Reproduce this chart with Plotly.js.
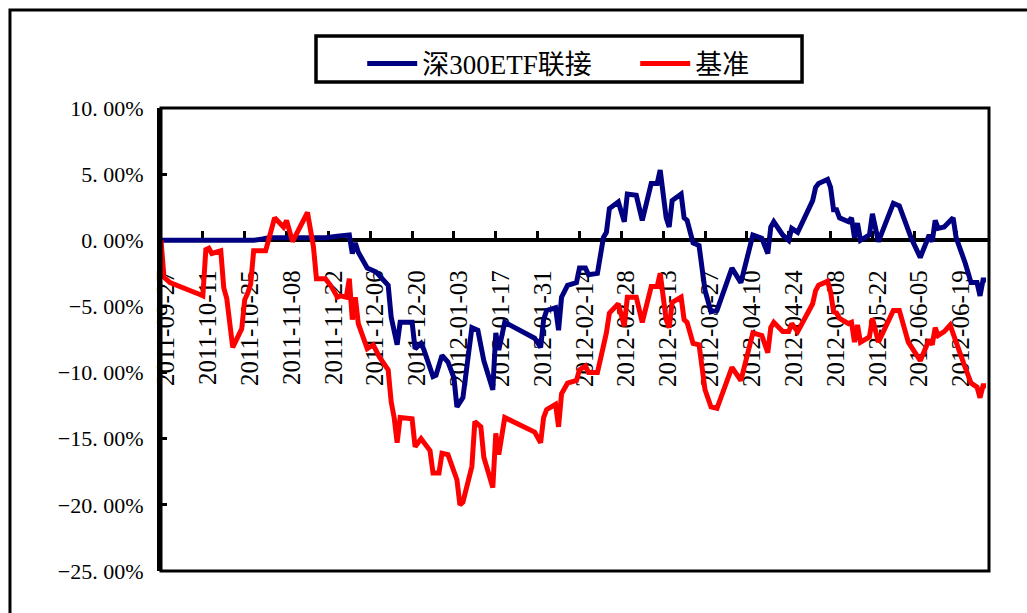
<!DOCTYPE html>
<html>
<head>
<meta charset="utf-8">
<script src="https://cdn.plot.ly/plotly-3.0.1.min.js"></script>
<style>
  html, body { margin: 0; padding: 0; background: #fff; }
  #chart { width: 1027px; height: 613px; }
</style>
</head>
<body>
<div id="chart"></div>
<script>
// ---- Data (cumulative return, %) ----
const fundName = '深300ETF联接';
const benchName = '基准';

const fundDates = [
  '2011-09-27','2011-10-28','2011-10-31','2011-11-02','2011-11-21','2011-11-25','2011-11-29','2011-11-30',
  '2011-12-01','2011-12-02','2011-12-05','2011-12-08','2011-12-12','2011-12-13','2011-12-15','2011-12-16',
  '2011-12-20','2011-12-21','2011-12-23','2011-12-24','2011-12-27','2011-12-28','2011-12-30','2012-01-01',
  '2012-01-03','2012-01-04','2012-01-06','2012-01-09','2012-01-11','2012-01-13','2012-01-16','2012-01-17',
  '2012-01-18','2012-01-20','2012-01-30','2012-02-01','2012-02-02','2012-02-03','2012-02-06','2012-02-07',
  '2012-02-08','2012-02-10','2012-02-13','2012-02-14','2012-02-16','2012-02-17','2012-02-20','2012-02-22',
  '2012-02-23','2012-02-24','2012-02-27','2012-02-29','2012-03-01','2012-03-04','2012-03-06','2012-03-09',
  '2012-03-11','2012-03-12','2012-03-14','2012-03-15','2012-03-16','2012-03-19','2012-03-20','2012-03-21',
  '2012-03-23','2012-03-25','2012-03-27','2012-03-29','2012-03-31','2012-04-05','2012-04-08','2012-04-12',
  '2012-04-15','2012-04-17','2012-04-18','2012-04-19','2012-04-22','2012-04-24','2012-04-25','2012-04-27',
  '2012-05-02','2012-05-03','2012-05-04','2012-05-06','2012-05-07','2012-05-08','2012-05-09','2012-05-10',
  '2012-05-11','2012-05-14','2012-05-15','2012-05-16','2012-05-17','2012-05-18','2012-05-21','2012-05-22',
  '2012-05-24','2012-05-29','2012-05-31','2012-06-04','2012-06-07','2012-06-10','2012-06-11','2012-06-12',
  '2012-06-13','2012-06-15','2012-06-18','2012-06-19','2012-06-22','2012-06-24','2012-06-26','2012-06-27',
  '2012-06-28','2012-06-29'
];
const fundValues = [
  0, 0, 0.1, 0.2, 0.2, 0.3, 0.4, -1.0,
  -0.2, -0.9, -2.1, -2.4, -3.4, -5.8, -7.9, -6.2,
  -6.2, -8.2, -7.8, -8.3, -10.3, -10.2, -8.7, -9.2,
  -10.4, -12.6, -11.9, -6.6, -6.8, -9.1, -11.3, -7.0,
  -8.3, -6.2, -7.4, -8.1, -6.0, -5.3, -5.1, -6.8,
  -4.3, -3.4, -3.2, -2.1, -2.1, -2.6, -2.5, 0.2,
  0.6, 2.4, 2.9, 1.4, 3.5, 3.4, 1.5, 4.3,
  4.3, 5.3, 1.7, 1.0, 3.0, 3.5, 1.7, 1.5,
  -0.2, -0.4, -3.8, -5.4, -5.3, -2.1, -3.2, 0.4,
  0.15, -1.0, 1.0, 1.4, 0.4, 0.0, 0.9, 0.6,
  3.0, 4.0, 4.3, 4.5, 4.6, 4.0, 2.3, 2.3,
  1.7, 1.4, 1.7, 0.2, 1.3, 0.0, 0.4, 2.0,
  -0.1, 2.8, 2.6, 0.15, -1.3, 0.4, -0.1, 1.5,
  0.9, 1.0, 1.7, 0.2, -1.7, -3.2, -3.2, -4.2,
  -3.0, -3.0
];

const benchDates = [
  '2011-09-27','2011-09-28','2011-09-29','2011-09-30','2011-10-10','2011-10-11','2011-10-12','2011-10-13',
  '2011-10-14','2011-10-17','2011-10-18','2011-10-19','2011-10-21','2011-10-24','2011-10-25','2011-10-26',
  '2011-10-27','2011-10-28','2011-11-01','2011-11-04','2011-11-07','2011-11-08','2011-11-10','2011-11-15',
  '2011-11-17','2011-11-18','2011-11-21','2011-11-23','2011-11-25','2011-11-26','2011-11-28','2011-11-29',
  '2011-11-30','2011-12-01','2011-12-02','2011-12-05','2011-12-07','2011-12-09','2011-12-12','2011-12-13',
  '2011-12-14','2011-12-15','2011-12-16','2011-12-20','2011-12-21','2011-12-23','2011-12-26','2011-12-27',
  '2011-12-29','2011-12-30','2012-01-01','2012-01-04','2012-01-05','2012-01-06','2012-01-09','2012-01-10',
  '2012-01-12','2012-01-13','2012-01-16','2012-01-17','2012-01-18','2012-01-20','2012-01-30','2012-02-01',
  '2012-02-02','2012-02-03','2012-02-06','2012-02-07','2012-02-08','2012-02-10','2012-02-13','2012-02-14',
  '2012-02-16','2012-02-17','2012-02-20','2012-02-22','2012-02-23','2012-02-24','2012-02-27','2012-02-29',
  '2012-03-01','2012-03-04','2012-03-06','2012-03-09','2012-03-11','2012-03-12','2012-03-14','2012-03-15',
  '2012-03-16','2012-03-19','2012-03-20','2012-03-21','2012-03-23','2012-03-25','2012-03-27','2012-03-29',
  '2012-03-31','2012-04-05','2012-04-08','2012-04-12','2012-04-15','2012-04-17','2012-04-18','2012-04-19',
  '2012-04-22','2012-04-24','2012-04-25','2012-04-27','2012-05-02','2012-05-03','2012-05-04','2012-05-06',
  '2012-05-07','2012-05-08','2012-05-09','2012-05-10','2012-05-11','2012-05-14','2012-05-15','2012-05-16',
  '2012-05-17','2012-05-18','2012-05-21','2012-05-22','2012-05-24','2012-05-29','2012-05-31','2012-06-03',
  '2012-06-07','2012-06-10','2012-06-11','2012-06-12','2012-06-13','2012-06-15','2012-06-17','2012-06-19',
  '2012-06-22','2012-06-24','2012-06-26','2012-06-27','2012-06-28','2012-06-29'
];
const benchValues = [
  0, -2.8, -3.0, -3.2, -4.1, -4.2, -0.7, -0.6,
  -1.0, -0.8, -3.6, -4.4, -8.1, -6.7, -4.5, -4.0,
  -3.3, -0.8, -0.8, 1.7, 1.0, 1.5, -0.1, 2.1,
  -0.5, -2.9, -2.9, -3.5, -4.3, -4.2, -4.3, -2.9,
  -6.0, -4.3, -6.3, -8.2, -7.9, -8.8, -9.8, -12.2,
  -13.4, -15.3, -13.4, -13.5, -15.6, -15.0, -15.9, -17.6,
  -17.6, -16.1, -16.2, -18.1, -20.0, -19.8, -17.1, -13.7,
  -14.1, -16.4, -18.7, -14.6, -16.2, -13.4, -14.5, -15.3,
  -13.4, -12.8, -12.4, -14.1, -11.6, -10.8, -10.6, -9.8,
  -9.5, -10.0, -10.0, -8.0, -7.0, -5.5, -4.8, -6.5,
  -4.3, -4.3, -6.2, -3.5, -3.5, -2.5, -6.0, -6.6,
  -4.7, -4.3, -6.0, -6.2, -7.8, -7.9, -11.3, -12.6,
  -12.7, -9.6, -10.6, -7.0, -7.2, -8.5, -6.6, -6.2,
  -6.9, -6.9, -6.3, -6.9, -4.8, -3.8, -3.4, -3.2,
  -3.1, -3.9, -5.4, -5.5, -5.9, -6.3, -6.2, -7.7,
  -6.4, -7.7, -7.3, -5.9, -7.7, -5.3, -5.3, -7.7,
  -9.1, -7.5, -7.9, -6.6, -7.2, -6.9, -6.4, -7.7,
  -9.6, -10.8, -11.1, -11.9, -11.0, -11.0
];

const yTickVals = [10, 5, 0, -5, -10, -15, -20, -25];
const yTickText = ['10. 00%', '5. 00%', '0. 00%', '\u22125. 00%', '\u221210. 00%', '\u221215. 00%', '\u221220. 00%', '\u221225. 00%'];
const xTickStart = '2011-09-27';
const xRange = ['2011-09-27', '2012-06-30'];
const yRange = [-25, 10];

const FONT = '"Liberation Serif", "Noto Sans CJK SC", serif';

const traces = [
  { x: fundDates, y: fundValues, name: fundName, type: 'scatter', mode: 'lines',
    line: { color: '#000080', width: 5, simplify: false } },
  { x: benchDates, y: benchValues, name: benchName, type: 'scatter', mode: 'lines',
    line: { color: '#FF0000', width: 5, simplify: false } }
];

const zeroPos = (0 - yRange[0]) / (yRange[1] - yRange[0]);

const layout = {
  width: 1027, height: 613,
  margin: { l: 161, r: 38, t: 108, b: 42, pad: 0 },
  paper_bgcolor: '#ffffff', plot_bgcolor: '#ffffff',
  font: { family: FONT, color: '#000000' },
  showlegend: true,
  legend: {
    orientation: 'h', x: 0.243, y: 1.148, xanchor: 'left', yanchor: 'top',
    bgcolor: 'rgba(0,0,0,0)', borderwidth: 0,
    font: { family: FONT, size: 27, color: '#000' },
    itemwidth: 50,
    entrywidth: 208, entrywidthmode: 'pixels', itemclick: false
  },
  xaxis: {
    type: 'date', range: xRange, anchor: 'free', position: zeroPos,
    tick0: xTickStart, dtick: 14 * 86400000, tickformat: '%Y-%m-%d',
    tickangle: -90, ticks: 'inside', ticklen: 7, tickwidth: 3, tickcolor: '#000',
    showline: true, linecolor: '#000', linewidth: 4,
    showgrid: false, zeroline: false, layer: 'below traces',
    tickfont: { family: FONT, size: 25, color: '#000' },
    ticklabelstandoff: 18, ticklabelshift: 5, fixedrange: true
  },
  yaxis: {
    range: yRange, tickvals: yTickVals, ticktext: yTickText,
    ticks: 'inside', ticklen: 6, tickwidth: 3, tickcolor: '#000',
    showline: true, linecolor: '#000', linewidth: 4, mirror: false,
    showgrid: false, zeroline: false, layer: 'below traces',
    tickfont: { family: FONT, size: 22, color: '#000' },
    ticklabelstandoff: 9, fixedrange: true
  },
  shapes: [
    // plot frame
    { type: 'rect', xref: 'paper', yref: 'paper', x0: 0, x1: 1, y0: 0, y1: 1,
      line: { color: '#000', width: 3 }, fillcolor: 'rgba(0,0,0,0)', layer: 'above' },
    // legend box
    { type: 'rect', xref: 'paper', yref: 'paper', x0: 0.1872, x1: 0.7742, y0: 1.0562, y1: 1.1555,
      line: { color: '#000', width: 3.5 }, fillcolor: 'rgba(0,0,0,0)' },
    // outer chart border
    { type: 'rect', xref: 'paper', yref: 'paper', x0: -0.1824, x1: 1.2, y0: -0.3, y1: 1.2117,
      line: { color: '#000', width: 3 }, fillcolor: 'rgba(0,0,0,0)' }
  ]
};

Plotly.newPlot('chart', traces, layout, { displayModeBar: false, staticPlot: true });
</script>
</body>
</html>
